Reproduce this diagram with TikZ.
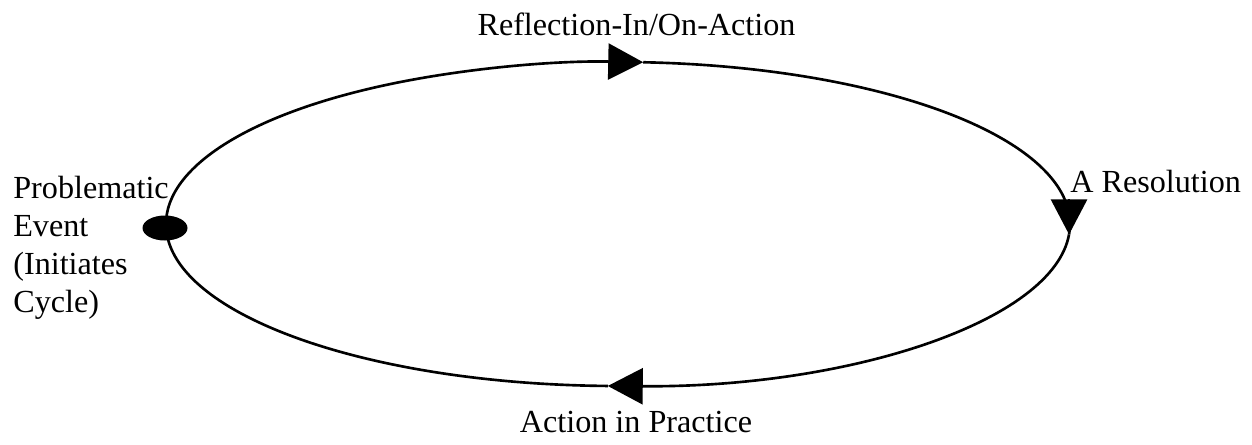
\documentclass[tikz,border=0pt]{standalone}
\usepackage{fontspec}
\setmainfont{Liberation Serif}
\usetikzlibrary{arrows.meta,shapes.geometric}
\begin{document}
\begin{tikzpicture}[>={Triangle[length=7mm,width=7.2mm]},
lbl/.style={font=\fontsize{18.3}{21.6}\selectfont,inner sep=0pt},
loop/.style={line width=1.5pt},
start/.style={ellipse,fill=black,minimum width=9mm,minimum height=5mm,inner sep=0pt},
ell/.style={x radius=9.04,y radius=3.24}]
\useasboundingbox (0,0) rectangle (25.04,8.88);
\coordinate (centre) at (12.36,4.40);
\coordinate (w) at ([shift={(180:9.04 and 3.24)}]centre);
\coordinate (top) at ([shift={(86.8:9.04 and 3.24)}]centre);
\coordinate (right) at ([shift={(-3.7:9.04 and 3.24)}]centre);
\coordinate (bottom) at ([shift={(-91.3:9.04 and 3.24)}]centre);
\draw[loop,->] (w) arc[start angle=180,end angle=86.8,ell];
\draw[loop] (top) arc[start angle=86.8,end angle=-3.7,ell];
\draw[loop,->] ([yshift=7mm]right) -- (right);
\draw[loop,->] (right) arc[start angle=-3.7,end angle=-91.3,ell];
\draw[loop] (bottom) arc[start angle=-91.3,end angle=-180,ell];
\node[start] (event) at (3.30,4.32) {};
\node[lbl,anchor=base] (reflect) at (12.73,8.18) {Reflection-In/On-Action};
\node[lbl,anchor=base west] (resolve) at (21.40,5.04) {A Resolution};
\node[lbl,anchor=base] (act) at (12.72,0.24) {Action in Practice};
\node[lbl,anchor=north west,align=left] (problem) at (0.26,5.36) {Problematic\\Event\\(Initiates\\Cycle)};
\end{tikzpicture}
\end{document}
